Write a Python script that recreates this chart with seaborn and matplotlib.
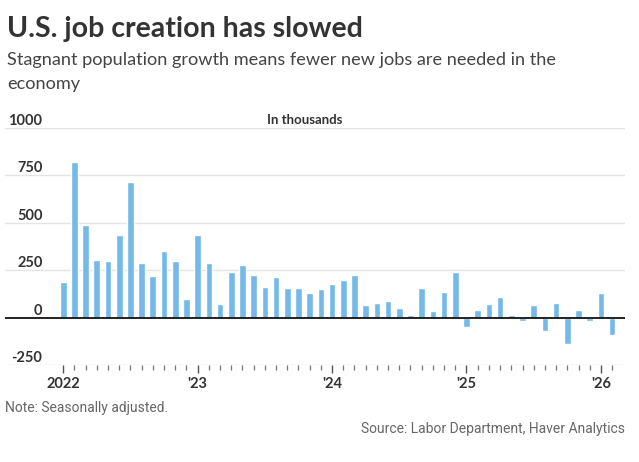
import numpy as np
import pandas as pd
import seaborn as sns
import matplotlib.pyplot as plt
from matplotlib.ticker import FixedLocator, NullFormatter

# monthly change in payrolls, thousands, Jan 2022 .. Feb 2026
jobs_2022 = [190, 819, 486, 305, 300, 434, 713, 289, 220, 353, 300, 98]
jobs_2023 = [434, 289, 71, 238, 278, 227, 161, 213, 154, 154, 128, 149]
jobs_2024 = [176, 200, 227, 64, 76, 87, 51, 12, 156, 35, 133, 238]
jobs_2025 = [-48, 39, 71, 110, 12, -18, 64, -69, 76, -140, 39, -18]
jobs_2026 = [128, -94]

year_labels = ['2022', "'23", "'24", "'25", "'26"]
y_ticks = [-250, 0, 250, 500, 750, 1000]

jobs = jobs_2022 + jobs_2023 + jobs_2024 + jobs_2025 + jobs_2026
df = pd.DataFrame({'month': np.arange(len(jobs)), 'jobs': jobs})

sns.set_theme(style='white')
plt.rcParams['font.family'] = ['Lato', 'DejaVu Sans']

fig = plt.figure(figsize=(6.39, 4.62), dpi=100)
ax = fig.add_axes([5/639, 1-365/462, 620/639, 237/462])

sns.barplot(data=df, x='month', y='jobs', color='#74b9e7', saturation=1,
            width=0.6, ax=ax, native_scale=True)

ax.set_xlim(-5.2, 50.15)
ax.set_ylim(-250, 1000)
for s in ax.spines.values():
    s.set_visible(False)

# grid + zero line
for v in y_ticks:
    if v == 0:
        ax.axhline(0, color='#111111', lw=1.3, zorder=3)
    else:
        ax.axhline(v, color='#e4e4e4', lw=1, zorder=0)

ax.set_yticks(y_ticks)
ax.set_yticklabels([str(v) for v in y_ticks], fontsize=10.5, fontweight='bold',
                   color='#333333')
ax.tick_params(axis='y', length=0, pad=-27)
for lbl in ax.get_yticklabels():
    lbl.set_horizontalalignment('right')
    lbl.set_verticalalignment('bottom')

year_pos = [0, 12, 24, 36, 48]
ax.xaxis.set_major_locator(FixedLocator(year_pos))
ax.xaxis.set_minor_locator(FixedLocator([m for m in df['month'] if m not in year_pos]))
ax.set_xticklabels(year_labels, fontsize=10.5, fontweight='bold', color='#333333')
ax.xaxis.set_minor_formatter(NullFormatter())
ax.tick_params(axis='x', which='major', bottom=True, length=6, width=1,
               color='#555555', pad=3)
ax.tick_params(axis='x', which='minor', bottom=True, length=3.5, width=0.9,
               color='#777777')
ax.set_xlabel('')
ax.set_ylabel('')

fig.text(305/639, 1-124/462, 'In thousands', ha='center', va='baseline',
         fontsize=9.5, fontweight='bold', color='#333333')

fig.text(7/639, 1-37/462, 'U.S. job creation has slowed', fontsize=20.5,
         fontweight='bold', color='#333333', va='baseline')
fig.text(7/639, 1-65/462, 'Stagnant population growth means fewer new jobs are needed in the',
         fontsize=13.1, color='#444444', va='baseline')
fig.text(7/639, 1-89/462, 'economy', fontsize=13.1, color='#444444', va='baseline')

fig.text(5/639, 1-412/462, 'Note: Seasonally adjusted.', fontsize=10,
         color='#666666', family=['Roboto', 'DejaVu Sans'], va='baseline')
fig.text(625/639, 1-433/462, 'Source: Labor Department, Haver Analytics', fontsize=10,
         color='#666666', family=['Roboto', 'DejaVu Sans'], ha='right', va='baseline')

fig.savefig('out.png', dpi=100)
